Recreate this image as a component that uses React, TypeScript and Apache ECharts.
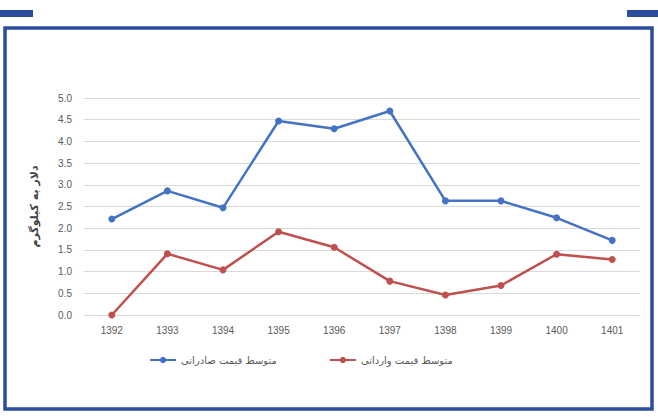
import React, { useEffect, useRef } from "react";
import * as echarts from "echarts";

const years = ["1392", "1393", "1394", "1395", "1396", "1397", "1398", "1399", "1400", "1401"];
const exportPrice = [2.21, 2.86, 2.47, 4.47, 4.29, 4.7, 2.63, 2.63, 2.24, 1.72];
const importPrice = [0.0, 1.41, 1.04, 1.92, 1.56, 0.78, 0.46, 0.68, 1.4, 1.28];
const exportName = "متوسط قیمت صادراتی";
const importName = "متوسط قیمت وارداتی";
const yAxisName = "دلار به کیلوگرم";

const frameColor = "#2B4D9E";

export default function App() {
  const ref = useRef<HTMLDivElement>(null);
  useEffect(() => {
    if (!ref.current) return;
    const chart = echarts.init(ref.current, null, { renderer: "svg" });
    chart.setOption({
      animation: false,
      backgroundColor: "#ffffff",
      graphic: [
        { type: "rect", shape: { x: 0, y: 10, width: 33, height: 7 }, style: { fill: frameColor } },
        { type: "rect", shape: { x: 627, y: 10, width: 31, height: 7 }, style: { fill: frameColor } },
        {
          type: "rect",
          shape: { x: 5, y: 28, width: 647, height: 381 },
          style: { fill: "none", stroke: frameColor, lineWidth: 3.5 },
        },
      ],
      grid: { left: 84, right: 18, top: 98, bottom: 102 },
      legend: {
        left: 144,
        top: 350,
        itemWidth: 26,
        itemHeight: 8,
        itemGap: 52,
        textStyle: { fontFamily: "DejaVu Sans", fontSize: 10, color: "#595959" },
        data: [exportName, importName],
      },
      xAxis: {
        type: "category",
        data: years,
        axisLine: { lineStyle: { color: "#d9d9d9" } },
        axisTick: { show: false },
        axisLabel: { color: "#595959", fontSize: 10, fontFamily: "Liberation Sans", margin: 10 },
      },
      yAxis: {
        type: "value",
        min: 0,
        max: 5,
        interval: 0.5,
        name: yAxisName,
        nameLocation: "middle",
        nameGap: 44,
        nameTextStyle: { fontFamily: "DejaVu Sans", fontSize: 11, fontWeight: "bold", color: "#404040" },
        axisLine: { show: false },
        axisTick: { show: false },
        splitLine: { lineStyle: { color: "#d9d9d9" } },
        axisLabel: {
          color: "#595959",
          fontSize: 10,
          fontFamily: "Liberation Sans",
          margin: 12,
          formatter: (v: number) => v.toFixed(1),
        },
      },
      series: [
        {
          name: exportName,
          type: "line",
          data: exportPrice,
          symbol: "circle",
          symbolSize: 7,
          lineStyle: { width: 2.5, color: "#4472C4" },
          itemStyle: { color: "#4472C4" },
        },
        {
          name: importName,
          type: "line",
          data: importPrice,
          symbol: "circle",
          symbolSize: 7,
          lineStyle: { width: 2.5, color: "#C0504D" },
          itemStyle: { color: "#C0504D" },
        },
      ],
    });
    return () => chart.dispose();
  }, []);
  return (
    <div
      ref={ref}
      style={{ position: "fixed", left: 0, top: 0, width: 658, height: 417 }}
    />
  );
}
